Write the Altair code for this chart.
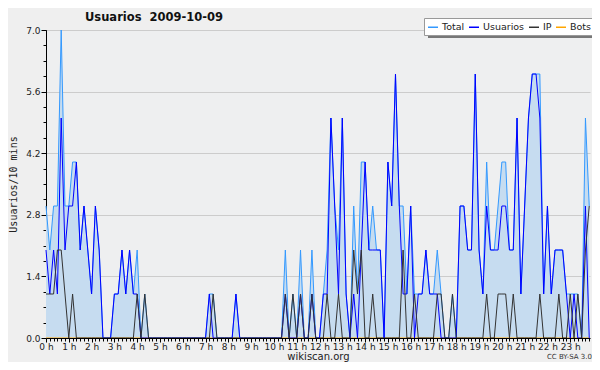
import altair as alt
import pandas as pd

# 10-minute slots over the day (0 = 00:00, 143 = 23:50)
slots = list(range(144))

usuarios = [2, 1, 2, 1, 5, 2, 3, 3, 4, 2, 3, 2, 1, 3, 2, 0, 0, 0, 1, 1,
            2, 1, 2, 1, 1, 0, 0, 0, 0, 0, 0, 0, 0, 0, 0, 0, 0, 0, 0, 0,
            0, 0, 0, 1, 0, 0, 0, 0, 0, 0, 1, 0, 0, 0, 0, 0, 0, 0, 0, 0,
            0, 0, 0, 1, 0, 0, 0, 1, 0, 0, 1, 0, 0, 1, 1, 5, 3, 1, 5, 1,
            0, 1, 0, 2, 4, 2, 2, 2, 2, 0, 4, 3, 6, 3, 1, 1, 3, 0, 1, 1,
            2, 1, 1, 1, 0, 0, 0, 0, 0, 3, 3, 2, 2, 6, 2, 1, 3, 2, 2, 2,
            3, 3, 2, 2, 5, 1, 3, 5, 6, 6, 5, 1, 3, 1, 2, 2, 2, 1, 0, 1,
            0, 0, 3, 0]

ip = [1, 1, 1, 2, 2, 1, 0, 1, 0, 0, 0, 0, 0, 0, 0, 0, 0, 0, 0, 0,
      0, 0, 0, 0, 1, 0, 1, 0, 0, 0, 0, 0, 0, 0, 0, 0, 0, 0, 0, 0,
      0, 0, 0, 0, 1, 0, 0, 0, 0, 0, 0, 0, 0, 0, 0, 0, 0, 0, 0, 0,
      0, 0, 0, 1, 0, 1, 0, 1, 0, 0, 1, 0, 0, 0, 1, 0, 0, 1, 0, 0,
      0, 2, 1, 2, 0, 0, 1, 0, 0, 0, 0, 0, 0, 0, 2, 0, 0, 1, 0, 0,
      0, 0, 0, 1, 1, 0, 0, 1, 0, 0, 0, 0, 0, 0, 0, 0, 1, 0, 0, 1,
      1, 1, 0, 1, 0, 0, 0, 0, 0, 0, 1, 0, 0, 0, 0, 1, 0, 0, 1, 0,
      1, 0, 2, 3]

total = [3, 2, 3, 3, 7, 3, 3, 4, 4, 2, 3, 2, 1, 3, 2, 0, 0, 0, 1, 1,
         2, 1, 2, 1, 2, 0, 1, 0, 0, 0, 0, 0, 0, 0, 0, 0, 0, 0, 0, 0,
         0, 0, 0, 1, 1, 0, 0, 0, 0, 0, 1, 0, 0, 0, 0, 0, 0, 0, 0, 0,
         0, 0, 0, 2, 0, 1, 0, 2, 0, 0, 2, 0, 0, 1, 2, 5, 3, 2, 5, 1,
         0, 3, 1, 4, 4, 2, 3, 2, 2, 0, 4, 3, 6, 3, 3, 1, 3, 1, 1, 1,
         2, 1, 1, 2, 1, 0, 0, 1, 0, 3, 3, 2, 2, 6, 2, 1, 4, 2, 2, 3,
         4, 4, 2, 2, 5, 1, 3, 5, 6, 6, 6, 1, 3, 1, 2, 2, 2, 1, 1, 1,
         1, 0, 5, 3]

bots = [0] * 144

series_names = ["Total", "Usuarios", "IP", "Bots"]
series_colors = ["#3399ff", "#0000ff", "#333333", "#ffa500"]

hour_ticks = list(range(0, 144, 6))
y_major = [0, 1.4, 2.8, 4.2, 5.6, 7.0]
y_minor = [round(k * 0.35, 2) for k in range(21)]

rows = []
for name, vals in zip(series_names, [total, usuarios, ip, bots]):
    for s, v in zip(slots, vals):
        rows.append({"slot": s, "value": v, "series": name})
df = pd.DataFrame(rows)

FONT = "DejaVu Sans"

xscale = alt.Scale(domain=[0, 143.2], nice=False, zero=False)
yscale = alt.Scale(domain=[0, 7], nice=False)
cscale = alt.Scale(domain=series_names, range=series_colors)

base = alt.Chart(df)

x_main = alt.X("slot:Q", scale=xscale, axis=alt.Axis(
    values=hour_ticks, labelExpr="(datum.value/6) + ' h'", title="wikiscan.org",
    grid=False, tickSize=4, tickColor="black", domainColor="black",
    labelFontSize=9, labelPadding=0, labelFont=FONT, labelColor="#222",
    titleFont=FONT, titleFontSize=10, titleFontWeight="normal", titlePadding=0,
    titleColor="#222", labelFlush=False, zindex=1))
y_main = alt.Y("value:Q", scale=yscale, axis=alt.Axis(
    values=y_major, format=".1f", title="Usuarios/10 mins", grid=True,
    gridColor="#cccccc", tickSize=5, tickColor="black", domainColor="black",
    labelFontSize=9, labelFont=FONT, labelColor="#222", labelPadding=1,
    titleFont="DejaVu Sans Mono", titleFontSize=10, titleFontWeight="normal",
    titlePadding=7, titleColor="#222"))

legend = alt.Legend(title=None, orient="none", legendX=378, legendY=-12,
                    direction="horizontal", symbolType="stroke", symbolSize=100,
                    symbolStrokeWidth=1.5, labelFont=FONT, labelFontSize=9.5,
                    labelColor="#222", columnPadding=1, labelOffset=3,
                    padding=3, strokeColor="#999999", fillColor="white")

color = alt.Color("series:N", scale=cscale, legend=legend)

shadow = alt.Chart(alt.Data(values=[{}])).mark_rect(color="#777777").encode(
    x=alt.value(382), x2=alt.value(549), y=alt.value(-9), y2=alt.value(8))

bots_layer = base.transform_filter(alt.datum.series == "Bots").mark_line(
    strokeWidth=1).encode(
    x=alt.X("slot:Q", scale=xscale, axis=alt.Axis(
        values=slots, labels=False, title=None, grid=False, tickSize=3,
        tickColor="black", domain=False, orient="bottom")),
    y=alt.Y("value:Q", scale=yscale, axis=alt.Axis(
        values=y_minor, labels=False, title=None, grid=False, tickSize=3,
        tickColor="black", domain=False, orient="left")),
    color=color)

area = base.transform_filter(alt.datum.series == "Total").mark_area(
    color="#c6dcf0", opacity=1).encode(x=x_main, y=y_main)


def series_line(name):
    return base.transform_filter(alt.datum.series == name).mark_line(
        strokeWidth=1).encode(
        x=alt.X("slot:Q", scale=xscale, axis=None),
        y=alt.Y("value:Q", scale=yscale, axis=None),
        color=color)


total_line = series_line("Total")
user_line = series_line("Usuarios")
ip_line = series_line("IP")

cc = alt.Chart(alt.Data(values=[{"t": "CC BY-SA 3.0"}])).mark_text(
    align="right", baseline="middle", font=FONT, fontSize=7, color="#333").encode(
    text="t:N", x=alt.value(546), y=alt.value(327))

chart = alt.layer(area, bots_layer, total_line, user_line, ip_line, shadow, cc).resolve_axis(
    x="independent", y="independent").properties(
    width=544, height=308,
    title=alt.TitleParams("Usuarios\u00a0 2009-10-09", anchor="start", frame="group",
                          dx=39, dy=8, font=FONT, fontSize=11.5, fontWeight="bold",
                          color="#111", offset=2),
    autosize=alt.AutoSizeParams(type="none"),
    padding={"left": 38, "top": 22, "right": 2, "bottom": 24},
    background="#efefef",
).configure_view(stroke=None, fill="#eeeff0")

chart.save("out.html", embed_options={"renderer": "svg", "actions": False})
